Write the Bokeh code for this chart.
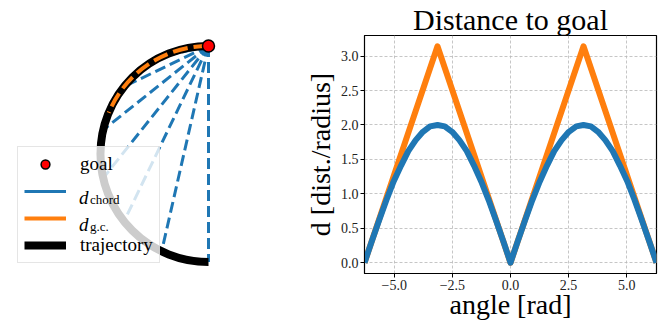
import numpy as np
from bokeh.plotting import figure
from bokeh.layouts import row
from bokeh.models import Range1d, FixedTicker, Legend, LegendItem
from bokeh.embed import file_html
from bokeh.resources import INLINE

BLUE = "#1f77b4"
ORANGE = "#ff7f0e"
FONT = "Liberation Serif"

# ---------------- data: right panel ----------------
angle = [-6.283, -5.97, -5.65, -5.34, -5.03, -4.71, -4.40, -4.08, -3.77, -3.46, -3.14,
         -2.83, -2.51, -2.20, -1.88, -1.57, -1.26, -0.94, -0.63, -0.31, 0.0,
         0.31, 0.63, 0.94, 1.26, 1.57, 1.88, 2.20, 2.51, 2.83, 3.14,
         3.46, 3.77, 4.08, 4.40, 4.71, 5.03, 5.34, 5.65, 5.97, 6.283]
d_chord = [0.0, 0.31, 0.62, 0.91, 1.18, 1.41, 1.62, 1.78, 1.90, 1.98, 2.00,
           1.98, 1.90, 1.78, 1.62, 1.41, 1.18, 0.91, 0.62, 0.31, 0.0,
           0.31, 0.62, 0.91, 1.18, 1.41, 1.62, 1.78, 1.90, 1.98, 2.00,
           1.98, 1.90, 1.78, 1.62, 1.41, 1.18, 0.91, 0.62, 0.31, 0.0]
gc_angle = [-6.283, -3.142, 0.0, 3.142, 6.283]
d_gc = [0.0, 3.142, 0.0, 3.142, 0.0]

x_ticks = [-5.0, -2.5, 0.0, 2.5, 5.0]
x_tick_labels = ["\u22125.0", "\u22122.5", "0.0", "2.5", "5.0"]
y_ticks = [0.0, 0.5, 1.0, 1.5, 2.0, 2.5, 3.0]
y_tick_labels = ["0.0", "0.5", "1.0", "1.5", "2.0", "2.5", "3.0"]

title_text = "Distance to goal"
xlabel_text = "angle [rad]"
ylabel_text = "d [dist./radius]"

# ---------------- data: left panel ----------------
radius = 1.0
goal_angle = 1.5708            # goal on top of the circle
traj_start = 1.5708
traj_end = 4.7124
chord_offsets = [0.449, 0.898, 1.346, 1.795, 2.244, 2.693, 3.142]
gc_offset = 1.178

legend_labels = ["goal", " ", " ", "trajectory"]
legend_symbols = [" ", "d", "d", " "]
legend_subscripts = [" ", "chord", "g.c.", " "]

# ---------------- left panel ----------------
left = figure(width=300, height=330, x_range=Range1d(-1.926, 0.852),
              y_range=Range1d(-1.106, 1.097), x_axis_location=None, y_axis_location=None,
              toolbar_location=None, output_backend="svg",
              min_border_left=0, min_border_right=0, min_border_top=35, min_border_bottom=57,
              outline_line_color=None)
left.grid.visible = False

gx = radius * np.cos(goal_angle)
gy = radius * np.sin(goal_angle)
ends = goal_angle + np.array(chord_offsets)
left.segment(x0=[gx] * len(chord_offsets), y0=[gy] * len(chord_offsets),
             x1=radius * np.cos(ends), y1=radius * np.sin(ends),
             line_color=BLUE, line_width=3, line_dash="11 5")
left.arc(x=0, y=0, radius=radius, start_angle=traj_start, end_angle=traj_end,
         direction="anticlock", line_color="black", line_width=8)
left.arc(x=0, y=0, radius=radius, start_angle=goal_angle, end_angle=goal_angle + gc_offset,
         direction="anticlock", line_color=ORANGE, line_width=4, line_dash="15 6")
goal_r = left.scatter(x=[gx], y=[gy], size=12, fill_color="red", line_color="black",
                      line_width=1.5)

# legend proxies (solid swatches, nothing drawn on the plot)
px_chord = left.line(x=[np.nan], y=[np.nan], line_color=BLUE, line_width=3)
px_gc = left.line(x=[np.nan], y=[np.nan], line_color=ORANGE, line_width=4)
px_traj = left.line(x=[np.nan], y=[np.nan], line_color="black", line_width=8)
px_none = left.line(x=[np.nan], y=[np.nan], line_color="black", line_alpha=0)

common = dict(margin=0, padding=6, spacing=5, glyph_width=42, glyph_height=22,
              label_height=22, label_text_font=FONT, label_text_color="black")

legend = Legend(items=[LegendItem(label=legend_labels[0], renderers=[goal_r]),
                       LegendItem(label=legend_labels[1], renderers=[px_chord]),
                       LegendItem(label=legend_labels[2], renderers=[px_gc]),
                       LegendItem(label=legend_labels[3], renderers=[px_traj])],
                location=(17, 10), label_standoff=14, label_text_font_size="19px",
                label_text_font_style="normal",
                background_fill_color="white", background_fill_alpha=0.8,
                border_line_color="#cccccc", border_line_width=1, **common)
left.add_layout(legend)

# italic symbol "d" of the distance entries (transparent legend on top)
legend_sym = Legend(items=[LegendItem(label=s, renderers=[px_none]) for s in legend_symbols],
                    location=(17, 10), label_standoff=20, label_text_font_size="19px",
                    label_text_font_style="italic",
                    background_fill_alpha=0, border_line_color=None, **common)
left.add_layout(legend_sym)

# subscripts of the distance entries
legend_sub = Legend(items=[LegendItem(label=s, renderers=[px_none]) for s in legend_subscripts],
                    location=(17, 8), label_standoff=31, label_text_font_size="13px",
                    background_fill_alpha=0, border_line_color=None, **common)
left.add_layout(legend_sub)

# ---------------- right panel ----------------
right = figure(width=360, height=330, x_range=Range1d(-6.2832, 6.2832),
               y_range=Range1d(-0.157, 3.299), toolbar_location=None,
               output_backend="svg", min_border_left=64, min_border_right=4,
               min_border_top=35, min_border_bottom=57, title=title_text)
right.line(gc_angle, d_gc, line_color=ORANGE, line_width=6, line_join="round")
right.line(angle, d_chord, line_color=BLUE, line_width=6, line_join="round")

right.title.align = "center"
right.title.text_font = FONT
right.title.text_font_size = "30px"
right.title.text_font_style = "normal"
right.title.text_color = "black"
right.title.standoff = 0

right.xaxis.ticker = FixedTicker(ticks=x_ticks)
right.xaxis.major_label_overrides = dict(zip(x_ticks, x_tick_labels))
right.yaxis.ticker = FixedTicker(ticks=y_ticks)
right.yaxis.major_label_overrides = dict(zip(y_ticks, y_tick_labels))
right.xaxis.axis_label = xlabel_text
right.yaxis.axis_label = ylabel_text
right.xaxis.axis_label_standoff = -4
right.yaxis.axis_label_standoff = 2
for ax in right.axis:
    ax.axis_label_text_font = FONT
    ax.axis_label_text_font_size = "28px"
    ax.axis_label_text_font_style = "normal"
    ax.axis_label_text_color = "black"
    ax.major_label_text_font = FONT
    ax.major_label_text_font_size = "14px"
    ax.major_label_text_color = "#222222"
    ax.major_label_standoff = 2
    ax.major_tick_out = 4
    ax.major_tick_in = 0
    ax.minor_tick_out = 0
    ax.minor_tick_in = 0
    ax.axis_line_color = "black"
    ax.major_tick_line_color = "black"

right.grid.grid_line_color = "#b8b8b8"
right.grid.grid_line_dash = "3 2"
right.grid.grid_line_width = 0.8
right.outline_line_color = "black"
right.outline_line_width = 1.2
right.outline_line_alpha = 1.0

layout = row(left, right)
open("out.html", "w").write(file_html(layout, INLINE))
